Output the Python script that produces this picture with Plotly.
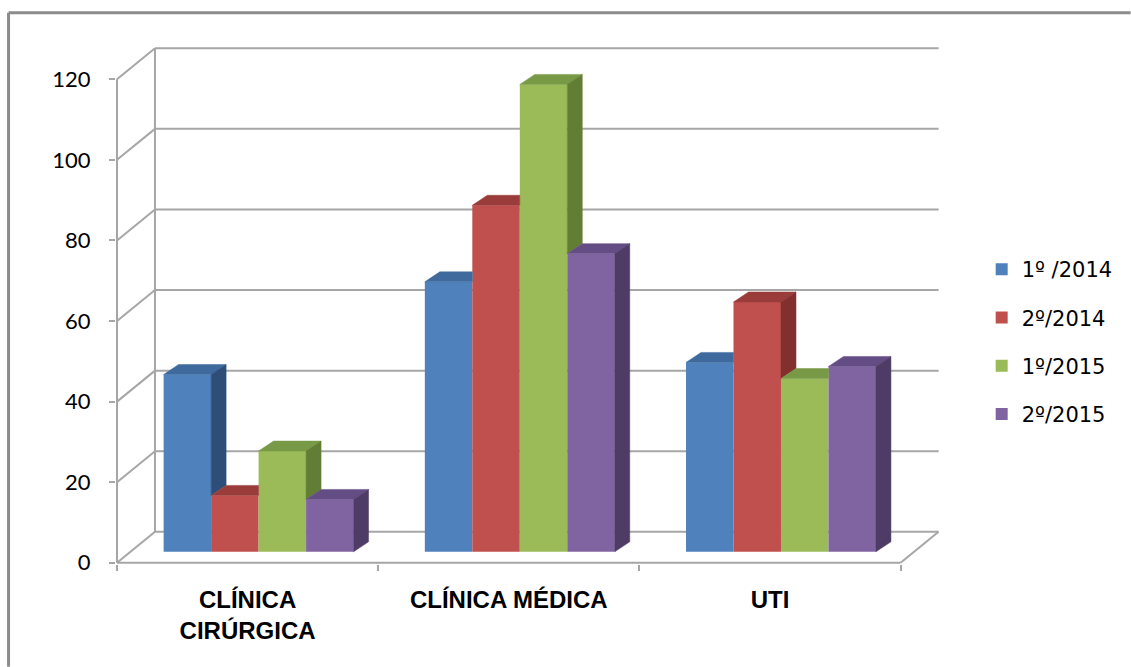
import plotly.graph_objects as go

# ---------------- data ----------------
categories = ["CLÍNICA<br>CIRÚRGICA", "CLÍNICA MÉDICA", "UTI"]
series_names = ["1º /2014", "2º/2014", "1º/2015", "2º/2015"]
v_1_2014 = [44, 67, 47]
v_2_2014 = [14, 86, 62]
v_1_2015 = [25, 116, 43]
v_2_2015 = [13, 74, 46]
y_ticks = [0, 20, 40, 60, 80, 100, 120]

series_values = [v_1_2014, v_2_2014, v_1_2015, v_2_2015]

# ---------------- style ----------------
front_colors = ["#4F81BD", "#C0504D", "#9BBB59", "#8064A2"]
top_colors = ["#3E6A9E", "#9A3C39", "#789946", "#644D84"]
side_colors = ["#2E4E78", "#832F2D", "#627D34", "#4E3C67"]
grid_color = "#A6A6A6"

W, H = 1131, 667
PX_CAT = 261.3     # pixels per category
PX_UNIT = 4.033    # pixels per value unit
ML, MR = 116.0, W - 945.3
MB, MT = 667 - 564.2, 44.76
PLOT_W = W - ML - MR
PLOT_H = H - MT - MB

X_RANGE = [-0.5 - 1.0 / PX_CAT, 2.67]
Y_RANGE = [-0.3, 128.5]

BX = 38 / PX_CAT       # depth offset of back wall (x)
BY = 31 / PX_UNIT      # depth offset of back wall (y)
BAR_SHIFT = 11 / PX_CAT
BAR_BASE = 11 / PX_UNIT
BAR_W = 47.5 / PX_CAT
DX = 15 / PX_CAT
DY = 10 / PX_UNIT


def px_x(p):
    return (p - ML) / PLOT_W


def px_y(p):
    return (H - MB - p) / PLOT_H


fig = go.Figure()

# front faces (bars)
n_series = len(series_values)
for k, (name, vals) in enumerate(zip(series_names, series_values)):
    fig.add_trace(go.Bar(
        x=[i + BAR_SHIFT for i in range(len(categories))],
        y=vals,
        base=BAR_BASE,
        width=BAR_W,
        offset=-n_series / 2 * BAR_W + k * BAR_W,
        name=name,
        legendgroup=name,
        marker=dict(color=front_colors[k], line=dict(width=0)),
        hovertemplate="%{y}<extra>" + name + "</extra>",
    ))

# top and side faces
for k, vals in enumerate(series_values):
    for i, v in enumerate(vals):
        L = i + BAR_SHIFT - n_series / 2 * BAR_W + k * BAR_W
        R = L + BAR_W
        top = BAR_BASE + v
        nxt = BAR_BASE + series_values[k + 1][i] if k < n_series - 1 else None
        if nxt is not None and nxt > top:
            pts = [(L, top), (L + DX, top + DY), (R, top + DY), (R, top)]
        else:
            pts = [(L, top), (L + DX, top + DY), (R + DX, top + DY), (R, top)]
        xs = [p[0] for p in pts] + [pts[0][0]]
        ys = [p[1] for p in pts] + [pts[0][1]]
        fig.add_trace(go.Scatter(x=xs, y=ys, mode="lines", fill="toself",
                                 fillcolor=top_colors[k],
                                 line=dict(color=top_colors[k], width=0.5),
                                 showlegend=False, hoverinfo="skip"))
        low = BAR_BASE if nxt is None else max(BAR_BASE, nxt)
        if low < top:
            pts = [(R, low), (R, top), (R + DX, top + DY), (R + DX, low + DY)]
            xs = [p[0] for p in pts] + [pts[0][0]]
            ys = [p[1] for p in pts] + [pts[0][1]]
            fig.add_trace(go.Scatter(x=xs, y=ys, mode="lines", fill="toself",
                                     fillcolor=side_colors[k],
                                     line=dict(color=side_colors[k], width=0.5),
                                     showlegend=False, hoverinfo="skip"))

# dummy trace for the label axis
fig.add_trace(go.Scatter(x=[0], y=[None], xaxis="x2", yaxis="y",
                         showlegend=False, hoverinfo="skip"))

# walls / grid as shapes below the bars
x_left = -0.5
x_right = len(categories) - 0.5
shapes = []
line_style = dict(color=grid_color, width=2)
for t in y_ticks:
    shapes.append(dict(type="line", xref="x", yref="y", layer="below",
                       x0=x_left + BX, x1=x_right + BX, y0=t + BY, y1=t + BY,
                       line=line_style))
    shapes.append(dict(type="line", xref="x", yref="y", layer="below",
                       x0=x_left, x1=x_left + BX, y0=t, y1=t + BY,
                       line=line_style))
shapes.append(dict(type="line", xref="x", yref="y", layer="below",
                   x0=x_left + BX, x1=x_left + BX, y0=BY, y1=y_ticks[-1] + BY,
                   line=line_style))
shapes.append(dict(type="line", xref="x", yref="y", layer="below",
                   x0=x_left, x1=x_left, y0=0, y1=y_ticks[-1],
                   line=line_style))
shapes.append(dict(type="line", xref="x", yref="y", layer="below",
                   x0=x_left, x1=x_right, y0=0, y1=0, line=line_style))
shapes.append(dict(type="line", xref="x", yref="y", layer="below",
                   x0=x_right, x1=x_right + BX, y0=0, y1=BY, line=line_style))
# outer frame (top + left edges)
frame = dict(color="#8C8C8C", width=3)
shapes.append(dict(type="line", xref="paper", yref="paper",
                   x0=px_x(8.5), x1=px_x(1131), y0=px_y(12.5), y1=px_y(12.5),
                   line=frame))
shapes.append(dict(type="line", xref="paper", yref="paper",
                   x0=px_x(8.5), x1=px_x(8.5), y0=px_y(12.5), y1=px_y(667),
                   line=frame))

fig.update_layout(
    width=W, height=H,
    margin=dict(l=ML, r=MR, t=MT, b=MB, pad=0),
    paper_bgcolor="white", plot_bgcolor="white",
    barmode="overlay",
    shapes=shapes,
    showlegend=True,
    legend=dict(x=px_x(982), xanchor="left", y=px_y(342), yanchor="middle",
                font=dict(family="DejaVu Sans", size=21, color="black"),
                tracegroupgap=18, bgcolor="rgba(0,0,0,0)"),
    xaxis=dict(range=X_RANGE, tickvals=[-0.5, 0.5, 1.5, 2.5],
               ticktext=["", "", "", ""], ticks="outside", ticklen=6,
               tickwidth=2, tickcolor=grid_color, showgrid=False,
               zeroline=False, showline=False, automargin=False,
               fixedrange=True),
    xaxis2=dict(range=X_RANGE, overlaying="x", anchor="y", side="bottom",
                tickvals=list(range(len(categories))), ticktext=categories,
                ticks="", showgrid=False, zeroline=False, showline=False,
                automargin=False, fixedrange=True, ticklabelstandoff=19,
                tickfont=dict(family="Liberation Sans", size=24,
                              color="black", weight="bold")),
    yaxis=dict(range=Y_RANGE, tickvals=y_ticks, ticks="outside", ticklen=6,
               tickwidth=2, tickcolor=grid_color, showgrid=False,
               zeroline=False, showline=False, automargin=False,
               fixedrange=True, ticklabelstandoff=14,
               tickfont=dict(family="Lato", size=22, color="black")),
)

fig.write_html("out.html")
